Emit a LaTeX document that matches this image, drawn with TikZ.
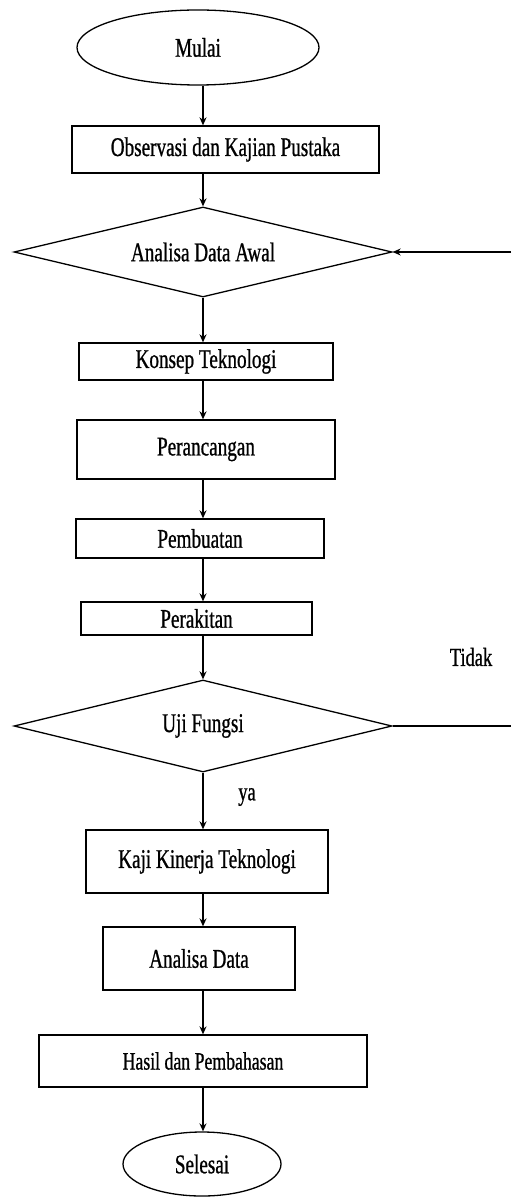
\documentclass[tikz,border=0pt]{standalone}
\usepackage{fontspec}
\setmainfont[FakeStretch=0.71,FakeBold=0.8]{Liberation Serif}
\usetikzlibrary{shapes.geometric,arrows.meta}
\tikzset{
  base/.style={draw=black, line width=1.3pt, inner sep=0pt, font=\fontsize{27}{30}\selectfont},
  procbox/.style={base, rectangle},
  termin/.style={base, ellipse},
  decide/.style={base, diamond, shape aspect=4.2},
  arr/.style={line width=1.3pt, -{Stealth[length=8pt,width=7pt]}},
  plain/.style={line width=1.3pt},
  lbl/.style={inner sep=0pt, font=\fontsize{26}{30}\selectfont}
}
\begin{document}
\begin{tikzpicture}[x=1pt,y=-1pt]
\useasboundingbox (0,0) rectangle (511,1198);
\coordinate (axis) at (203,0);
\node[termin, minimum width=242pt, minimum height=75pt] (mulai) at (198,47.5) {Mulai};
\node[procbox, minimum width=307pt, minimum height=47pt] (obs) at (225.5,149.5) {Observasi dan Kajian Pustaka};
\node[decide, minimum width=378pt, minimum height=90pt] (awal) at (203,252) {Analisa Data Awal};
\node[procbox, minimum width=254pt, minimum height=37pt] (konsep) at (206,361.5) {Konsep Teknologi};
\node[procbox, minimum width=258pt, minimum height=59pt] (rancang) at (206,449.5) {Perancangan};
\node[procbox, minimum width=248pt, minimum height=39pt] (buat) at (200,538.5) {Pembuatan};
\node[procbox, minimum width=231pt, minimum height=33pt] (rakit) at (196.5,618.5) {Perakitan};
\node[decide, minimum width=378pt, minimum height=92pt] (uji) at (203,726) {Uji Fungsi};
\node[procbox, minimum width=242pt, minimum height=63pt] (kaji) at (207,861.5) {Kaji Kinerja Teknologi};
\node[procbox, minimum width=192pt, minimum height=63pt] (analisa) at (199,958.5) {Analisa Data};
\node[procbox, minimum width=328pt, minimum height=52pt, font=\fontsize{25}{28}\selectfont] (hasil) at (203,1061) {Hasil dan Pembahasan};
\node[termin, minimum width=158pt, minimum height=64pt] (selesai) at (202,1164) {Selesai};
\node[lbl] (tidak) at (471,657) {Tidak};
\node[lbl] (ya) at (247,797) {ya};
\coordinate (r1) at (511,252);
\coordinate (r2) at (511,726);
\draw[arr] (mulai.south -| axis) -- (obs.north -| axis);
\draw[arr] (obs.south -| axis) -- (awal.north);
\draw[arr] (awal.south) -- (konsep.north -| axis);
\draw[arr] (konsep.south -| axis) -- (rancang.north -| axis);
\draw[arr] (rancang.south -| axis) -- (buat.north -| axis);
\draw[arr] (buat.south -| axis) -- (rakit.north -| axis);
\draw[arr] (rakit.south -| axis) -- (uji.north);
\draw[arr] (uji.south) -- (kaji.north -| axis);
\draw[arr] (kaji.south -| axis) -- (analisa.north -| axis);
\draw[arr] (analisa.south -| axis) -- (hasil.north -| axis);
\draw[arr] (hasil.south -| axis) -- (selesai.north -| axis);
\draw[plain] (uji.east) -- (r2);
\draw[arr] (r1) -- (awal.east);
\end{tikzpicture}
\end{document}
